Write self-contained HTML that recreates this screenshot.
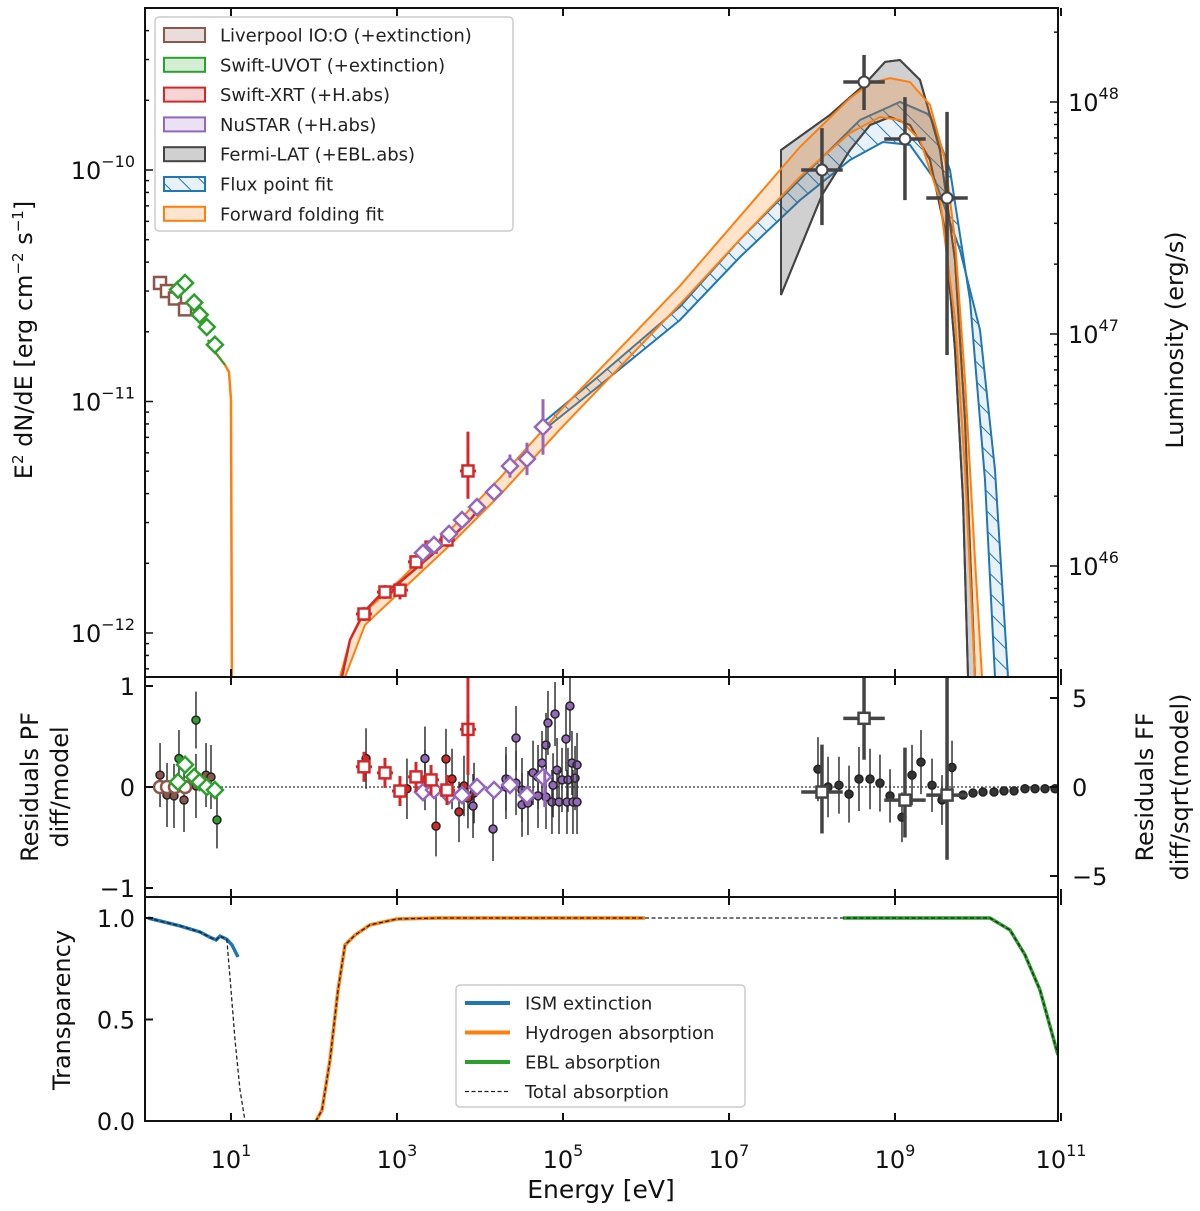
<!DOCTYPE html>
<html><head><meta charset="utf-8">
<style>
html,body{margin:0;padding:0;background:#fff;}
svg{display:block;font-family:"DejaVu Sans","Liberation Sans",sans-serif;}
</style></head>
<body>
<svg id="chart" width="1200" height="1211" viewBox="0 0 1200 1211" xmlns="http://www.w3.org/2000/svg">
<defs>
<clipPath id="cMain"><rect x="145" y="8" width="913" height="669"/></clipPath>
<clipPath id="cRes"><rect x="145" y="677" width="913" height="220"/></clipPath>
<clipPath id="cTr"><rect x="145" y="897" width="913" height="224"/></clipPath>
<pattern id="hatch" patternUnits="userSpaceOnUse" width="14" height="14" patternTransform="rotate(-45)">
<rect width="14" height="14" fill="rgba(31,119,180,0.1)"/>
<line x1="0" y1="0" x2="0" y2="14" stroke="#1f77b4" stroke-width="2"/>
</pattern>
</defs>
<g id="main"></g>
<g id="res"></g>
<g id="tr"></g>
<g id="axes"></g>
</svg>
<script>
// ---------------- data (log10 energy in eV, log10 flux in erg/cm2/s) ----------------
const lpLogE=[0.145,0.229,0.325,0.446];
const lpLogF=[-10.488,-10.523,-10.555,-10.602];
const uvLogE=[0.361,0.446,0.556,0.623,0.708,0.806];
const uvLogF=[-10.517,-10.488,-10.573,-10.625,-10.678,-10.755];
const xrtLogE=[2.602,2.855,3.036,3.229,3.410,3.602,3.855];
const xrtLogF=[-11.918,-11.823,-11.815,-11.693,-11.629,-11.598,-11.300];
const xrtErrLo=[0.03,0.03,0.04,0.03,0.03,0.03,0.12];
const xrtErrHi=[0.03,0.03,0.04,0.03,0.03,0.03,0.17];
const nuLogE=[3.313,3.446,3.627,3.783,3.964,4.169,4.361,4.566,4.759];
const nuLogF=[-11.654,-11.620,-11.572,-11.512,-11.456,-11.391,-11.279,-11.248,-11.110];
const nuErr=[0.02,0.02,0.02,0.02,0.03,0.03,0.05,0.07,0.12];
const fLogE=[8.120,8.627,9.120,9.627];
const fLogF=[-10.0,-9.620,-9.866,-10.121];
const fErrHi=[-9.819,-9.503,-9.685,-9.749];
const fErrLo=[-10.238,-9.741,-10.130,-10.799];
// model bands
const ffUpE=[2.313,2.434,2.614,3.036,3.639,4.241,4.964,5.687,6.410,7.133,7.855,8.458,8.699,8.940,9.181,9.422,9.602,9.723,9.843,9.964,10.048];
const ffUpF=[-12.19,-12.03,-11.909,-11.771,-11.555,-11.330,-11.040,-10.770,-10.500,-10.200,-9.900,-9.690,-9.625,-9.603,-9.620,-9.719,-9.957,-10.302,-10.907,-11.685,-12.19];
const ffLoE=[2.373,2.614,3.036,3.639,4.241,4.964,5.687,6.410,7.133,7.855,8.458,8.819,9.060,9.301,9.542,9.723,9.843,9.964];
const ffLoF=[-12.19,-11.965,-11.823,-11.620,-11.404,-11.120,-10.850,-10.580,-10.300,-10.030,-9.840,-9.771,-9.784,-9.870,-10.130,-10.648,-11.296,-12.19];
const fpUpE=[4.723,5.446,6.410,7.133,7.855,8.578,9.060,9.422,9.663,9.904,10.084,10.205];
const fpUpF=[-11.102,-10.886,-10.590,-10.300,-10.040,-9.784,-9.706,-9.762,-10.0,-10.562,-11.339,-12.19];
const fpLoE=[4.723,5.446,6.410,7.133,7.855,8.458,8.855,9.181,9.482,9.783,10.024,10.205,10.361];
const fpLoF=[-11.136,-10.929,-10.648,-10.376,-10.130,-9.957,-9.879,-9.892,-10.043,-10.346,-10.691,-11.296,-12.19];
const gUpE=[7.627,8.217,8.627,8.880,9.060,9.301,9.542,9.723,9.843,9.964];
const gUpF=[-9.914,-9.762,-9.633,-9.533,-9.525,-9.611,-9.914,-10.389,-11.080,-12.19];
const gLoE=[7.627,8.120,8.458,8.699,8.940,9.181,9.422,9.602,9.723,9.819,9.880];
const gLoF=[-10.540,-10.108,-9.914,-9.806,-9.771,-9.806,-9.957,-10.259,-10.778,-11.425,-12.19];
const optE=[0.723,0.807,0.928,0.976,1.0,1.012];
const optF=[-10.734,-10.786,-10.842,-10.873,-10.994,-12.3];
const xmE=[2.337,2.434,2.602,2.795,3.036,3.518,3.880,3.976];
const xmF=[-12.19,-12.03,-11.909,-11.836,-11.780,-11.633,-11.512,-11.469];
// residuals PF
const lpRes=[0,0,0,0];
const uvRes=[0.05,0.22,0.1,0.05,0.0,-0.03];
const xrtRes=[0.2,0.14,-0.04,0.1,0.07,-0.03,0.57];
const nuRes=[-0.05,-0.03,-0.08,-0.08,0.0,-0.03,0.02,-0.08,0.1];
const fRes=[-0.05,0.68,-0.13,-0.08];
const fResHi=[0.42,1.1,0.39,1.2];
const fResLo=[-0.46,0.27,-0.5,-0.72];
// residuals FF (dots)
const dLowE=[0.145,0.229,0.313,0.434,0.578,0.699,0.759];
const dLowV=[0.67,-0.45,-0.5,-0.73,0.06,0.67,0.56];
const dGrE=[0.373,0.578,0.831];
const dGrV=[1.6,3.76,-1.85];
const dRedE=[2.627,3.120,3.337,3.590,3.663,3.470,3.747,3.855,3.928,3.807];
const dRedV=[1.6,-0.1,0.4,1.57,0.45,-2.2,-1.4,-0.62,-0.34,0.06];
const dPuE=[3.337,3.916,4.157,4.313,4.313,4.434,4.434,4.506,4.506,4.578,4.639,4.699,4.747,4.795,4.819,4.904,4.928,4.867,4.952,5.036,5.084,5.108,5.169,4.988,5.060,5.145,5.048,5.120,5.169,4.880,4.795,4.699];
const dPuV=[1.6,-1.07,-2.36,0.45,0,2.75,0.22,-0.17,-1.0,-0.9,0.8,0.56,1.35,2.36,3.6,4.1,0.95,-0.84,-0.84,2.7,4.55,1.35,1.24,0.4,0.4,0.5,-0.84,-0.84,-0.84,0.1,-0.56,-0.5];
const dHiE=[8.072,8.193,8.325,8.446,8.566,8.699,8.819,8.940,9.084,9.205,9.313,9.446,9.566,9.687,9.819,9.940,10.060,10.193,10.313,10.434,10.566,10.687,10.807,10.928];
const dHiV=[1.0,0,0.1,-0.4,0.45,0.45,0.22,-0.5,-1.7,0.67,1.4,0.1,-0.73,1.1,-0.45,-0.34,-0.28,-0.28,-0.22,-0.22,-0.1,-0.1,-0.1,-0.1];
const dHiErr=[1.8,1.7,1.6,1.6,1.8,1.7,1.6,1.5,1.4,1.7,1.8,1.5,1.4,1.5,0.2,0.1,0.1,0.1,0.1,0.1,0.1,0.1,0.1,0.1];
// transparency
const ismE=[0.0,0.386,0.627,0.747,0.820,0.867,0.950,1.012,1.084];
const ismT=[1.0,0.961,0.931,0.905,0.892,0.911,0.895,0.867,0.808];
const totLowE=[0.0,0.386,0.627,0.747,0.820,0.867,0.950,0.990,1.048,1.108,1.169,2.024];
const totLowT=[1.0,0.961,0.931,0.905,0.892,0.911,0.895,0.695,0.40,0.153,0.0,0.0];
const hE=[2.024,2.096,2.193,2.289,2.373,2.494,2.675,3.0,3.5,5.988];
const hT=[0,0.054,0.30,0.645,0.867,0.916,0.966,0.995,1.0,1.0];
const eblE=[8.373,9.5,10.145,10.386,10.566,10.747,10.964];
const eblT=[1.0,1.0,1.0,0.941,0.818,0.645,0.325];
const xTickExp=[1,3,5,7,9,11];
const yTickExp=[-10,-11,-12];
const lumTickExp=[48,47,46];
const resTicks=[1,0,-1];
const ffTicks=[5,0,-5];
const trTicks=[1.0,0.5,0.0];

// ---------------- scales ----------------
const X=e=>148+83*e;
const Ym=f=>170-231.5*(f+10);
const Yr=v=>787-101*v;
const Yf=v=>787-17.8*v;
const Yt=t=>1121-203*t;
const Yl=l=>102+232*(48-l);
const NS='http://www.w3.org/2000/svg';
function mk(parent,tag,attrs,name,inter){const el=document.createElementNS(NS,tag);for(const k in attrs)el.setAttribute(k,attrs[k]);


parent.appendChild(el);return el;}
function pts(es,vs,fy){return es.map((e,i)=>X(e).toFixed(1)+','+fy(vs[i]).toFixed(1)).join(' ');}
const main=document.getElementById('main'),res=document.getElementById('res'),tr=document.getElementById('tr'),ax=document.getElementById('axes');
const gM=mk(main,'g',{'clip-path':'url(#cMain)'},'sed-plot-area',false);
function band(g,ue,uf,le,lf,fill,stroke,name){
  const p=pts(ue,uf,Ym)+' '+pts(le.slice().reverse(),lf.slice().reverse(),Ym);
  mk(g,'polygon',{points:p,fill:fill,stroke:'none'},name+'-fill',false);
  mk(g,'polyline',{points:pts(ue,uf,Ym),fill:'none',stroke:stroke,'stroke-width':2},name+'-upper',false);
  mk(g,'polyline',{points:pts(le,lf,Ym),fill:'none',stroke:stroke,'stroke-width':2},name+'-lower',false);
}
function ln(g,x1,y1,x2,y2,c,w,name){return mk(g,'line',{x1:x1,y1:y1,x2:x2,y2:y2,stroke:c,'stroke-width':w},name,false);}
band(gM,fpUpE,fpUpF,fpLoE,fpLoF,'url(#hatch)','#1f77b4','flux-point-fit-band');
band(gM,gUpE,gUpF,gLoE,gLoF,'rgba(100,100,100,0.3)','#444','fermi-band');
{const p=pts(gUpE,gUpF,Ym)+' '+pts(gLoE.slice().reverse(),gLoF.slice().reverse(),Ym);mk(gM,'polygon',{points:p,fill:'none',stroke:'#444','stroke-width':2},'fermi-band-edge',false);}
band(gM,ffUpE,ffUpF,ffLoE,ffLoF,'rgba(255,127,14,0.22)','#ff7f0e','forward-folding-band');
mk(gM,'polyline',{points:pts(optE,optF,Ym),fill:'none',stroke:'#ff7f0e','stroke-width':2.5},'optical-model-line',false);
mk(gM,'polyline',{points:pts(optE.slice(0,3),optF.slice(0,3),Ym),fill:'none',stroke:'#2ca02c','stroke-width':2},'uvot-model-line',false);
mk(gM,'polyline',{points:pts(xmE,xmF,Ym),fill:'none',stroke:'#d62728','stroke-width':2.5},'xrt-model-line',false);
function sq(g,x,y,s,c,name){mk(g,'rect',{x:x-s/2,y:y-s/2,width:s,height:s,fill:'#fff',stroke:c,'stroke-width':2.5},name,false);}
function dia(g,x,y,s,c,name){mk(g,'polygon',{points:`${x},${y-s} ${x+s},${y} ${x},${y+s} ${x-s},${y}`,fill:'#fff',stroke:c,'stroke-width':2.5},name,false);}
lpLogE.forEach((e,i)=>sq(gM,X(e),Ym(lpLogF[i]),12,'#8c564b','liverpool-point'));
uvLogE.forEach((e,i)=>dia(gM,X(e),Ym(uvLogF[i]),8,'#2ca02c','uvot-point'));
xrtLogE.forEach((e,i)=>{const x=X(e),y=Ym(xrtLogF[i]);
 ln(gM,x,Ym(xrtLogF[i]+xrtErrHi[i]),x,Ym(xrtLogF[i]-xrtErrLo[i]),'#d62728',3,'xrt-yerr');
 ln(gM,x-8,y,x+8,y,'#d62728',3,'xrt-xerr');sq(gM,x,y,11,'#d62728','xrt-point');});
nuLogE.forEach((e,i)=>{const x=X(e),y=Ym(nuLogF[i]);
 ln(gM,x,Ym(nuLogF[i]+nuErr[i]),x,Ym(nuLogF[i]-nuErr[i]),'#9467bd',3,'nustar-yerr');
 dia(gM,x,y,8,'#9467bd','nustar-point');});
fLogE.forEach((e,i)=>{const x=X(e),y=Ym(fLogF[i]);
 ln(gM,x,Ym(fErrHi[i]),x,Ym(fErrLo[i]),'#444',3.5,'fermi-yerr');
 ln(gM,X(e-0.25),y,X(e+0.25),y,'#444',3.5,'fermi-xerr');
 mk(gM,'circle',{cx:x,cy:y,r:5.5,fill:'#fff',stroke:'#444','stroke-width':2},'fermi-point',false);});

// legend main
const lg=mk(main,'g',{},'legend',false);
mk(lg,'rect',{x:155,y:17,width:358,height:214,rx:4,fill:'rgba(255,255,255,0.85)',stroke:'#ccc','stroke-width':1.5},'legend-box',false);
const legNames=['Liverpool IO:O (+extinction)','Swift-UVOT (+extinction)','Swift-XRT (+H.abs)','NuSTAR (+H.abs)','Fermi-LAT (+EBL.abs)','Flux point fit','Forward folding fit'];
const legStroke=['#8c564b','#2ca02c','#d62728','#9467bd','#444','#1f77b4','#ff7f0e'];
const legFill=['rgba(140,86,75,0.2)','rgba(44,160,44,0.2)','rgba(214,39,40,0.2)','rgba(148,103,189,0.2)','rgba(100,100,100,0.3)','url(#hatch)','rgba(255,127,14,0.2)'];
legNames.forEach((n,i)=>{const y=35+i*29.8;
 mk(lg,'rect',{x:164,y:y-7,width:41,height:14,fill:legFill[i],stroke:legStroke[i],'stroke-width':2},'legend-patch',false);
 const t=mk(lg,'text',{x:220,y:y+6.5,'font-size':18,fill:'#222'},'legend-entry',false);t.textContent=n;});

// residuals
const gR=mk(res,'g',{'clip-path':'url(#cRes)'},'residual-plot-area',false);
ln(gR,145,787,1058,787,'#333',1.2,'zero-line').setAttribute('stroke-dasharray','2,2');
function dot(e,v,err,fill,name){const x=X(e);ln(gR,x,Yf(v+err),x,Yf(v-err),'#333',1.5,name+'-err');
 mk(gR,'circle',{cx:x,cy:Yf(v),r:4,fill:fill,stroke:'#222','stroke-width':1.5},name,false);}
dLowE.forEach((e,i)=>dot(e,dLowV[i],1.8,'#8c564b','ff-res-optical-dot'));
dGrE.forEach((e,i)=>dot(e,dGrV[i],1.6,'#2ca02c','ff-res-uvot-dot'));
dRedE.forEach((e,i)=>dot(e,dRedV[i],1.7,'#d62728','ff-res-xrt-dot'));
dPuE.forEach((e,i)=>dot(e,dPuV[i],1.8,'#9467bd','ff-res-nustar-dot'));
dHiE.forEach((e,i)=>dot(e,dHiV[i],dHiErr[i],'#333','ff-res-fermi-dot'));
lpLogE.forEach((e,i)=>mk(gR,'circle',{cx:X(e),cy:Yr(lpRes[i]),r:6,fill:'#fff',stroke:'#8c564b','stroke-width':2.5},'pf-res-liverpool',false));
uvLogE.forEach((e,i)=>dia(gR,X(e),Yr(uvRes[i]),8,'#2ca02c','pf-res-uvot'));
nuLogE.forEach((e,i)=>dia(gR,X(e),Yr(nuRes[i]),8,'#9467bd','pf-res-nustar'));
ln(gR,X(4.78),Yr(0.18),X(4.78),Yr(-0.2),'#9467bd',3,'pf-res-nustar-err');
xrtLogE.forEach((e,i)=>{const x=X(e),y=Yr(xrtRes[i]);ln(gR,x,y-15,x,y+15,'#d62728',3,'pf-res-xrt-err');ln(gR,x-8,y,x+8,y,'#d62728',3,'pf-res-xrt-xerr');sq(gR,x,y,11,'#d62728','pf-res-xrt');});
ln(gR,X(3.855),Yr(2),X(3.855),Yr(0.12),'#d62728',3,'pf-res-xrt-bigerr');
fLogE.forEach((e,i)=>{const x=X(e),y=Yr(fRes[i]);ln(gR,x,Yr(fResHi[i]),x,Yr(fResLo[i]),'#444',3.5,'pf-res-fermi-err');ln(gR,X(e-0.25),y,X(e+0.25),y,'#444',3.5,'pf-res-fermi-xerr');sq(gR,x,y,11,'#444','pf-res-fermi');});

// transparency
const gT=mk(tr,'g',{'clip-path':'url(#cTr)'},'transparency-plot-area',false);
mk(gT,'polyline',{points:pts(ismE,ismT,Yt),fill:'none',stroke:'#1f77b4','stroke-width':3.5},'ism-extinction-line',false);
mk(gT,'polyline',{points:pts(hE,hT,Yt),fill:'none',stroke:'#ff7f0e','stroke-width':3.5},'hydrogen-absorption-line',false);
mk(gT,'polyline',{points:pts(eblE,eblT,Yt),fill:'none',stroke:'#2ca02c','stroke-width':3.5},'ebl-absorption-line',false);
const totE=totLowE.concat(hE.slice(1),eblE), totT=totLowT.concat(hT.slice(1),eblT);
mk(gT,'polyline',{points:pts(totE,totT,Yt),fill:'none',stroke:'#222','stroke-width':1.3,'stroke-dasharray':'4,2.5'},'total-absorption-line',false);
const lg2=mk(tr,'g',{},'transparency-legend',false);
mk(lg2,'rect',{x:456,y:985,width:289,height:122,rx:4,fill:'rgba(255,255,255,0.85)',stroke:'#ccc','stroke-width':1.5},'transparency-legend-box',false);
const l2n=['ISM extinction','Hydrogen absorption','EBL absorption','Total absorption'];
const l2c=['#1f77b4','#ff7f0e','#2ca02c','#222'];
l2n.forEach((n,i)=>{const y=1003+i*29.5;const l=ln(lg2,465,y,510,y,l2c[i],i<3?4:1.3,'transparency-legend-line');if(i==3)l.setAttribute('stroke-dasharray','4,2.5');
 const t=mk(lg2,'text',{x:525,y:y+6.5,'font-size':18,fill:'#222'},'transparency-legend-entry',false);t.textContent=n;});

// axes frames & ticks
[[8,677],[677,897],[897,1121]].forEach(([t,b])=>mk(ax,'rect',{x:145,y:t,width:913,height:b-t,fill:'none',stroke:'#111','stroke-width':2},'panel-frame',false));
function txt(x,y,s,size,anchor,name,extra){const t=mk(ax,'text',Object.assign({x:x,y:y,'font-size':size,'text-anchor':anchor,fill:'#111'},extra||{}),name,false);t.innerHTML=s;return t;}
[[8,677],[677,897],[897,1121]].forEach(([t,b])=>{xTickExp.forEach(p=>{const x=X(p);ln(ax,x,t,x,t+8,'#111',2,'x-tick');ln(ax,x,b,x,b-8,'#111',2,'x-tick');});});
xTickExp.forEach(p=>txt(X(p),1168,'10<tspan dy="-12" font-size="16">'+p+'</tspan>',24,'middle','x-tick-label'));
for(let d=-13;d<=-9;d++){for(let m=1;m<10;m++){const f=d+Math.log10(m);const y=Ym(f);if(y<8||y>677)continue;const L=m==1?8:4;ln(ax,145,y,145+L,y,'#111',1.5,'y-tick');}}
yTickExp.forEach(p=>txt(135,Ym(p)+9,'10<tspan dy="-12" font-size="16">\u2212'+(-p)+'</tspan>',24,'end','y-tick-label'));
for(let d=45;d<=49;d++){for(let m=1;m<10;m++){const y=Yl(d+Math.log10(m));if(y<8||y>677)continue;const L=m==1?8:4;ln(ax,1058,y,1058-L,y,'#111',1.5,'lum-tick');}}
lumTickExp.forEach(p=>txt(1068,Yl(p)+9,'10<tspan dy="-12" font-size="16">'+p+'</tspan>',24,'start','lum-tick-label'));
resTicks.forEach(v=>{ln(ax,145,Yr(v),153,Yr(v),'#111',2,'res-tick');txt(135,Yr(v)+9,v<0?'\u2212'+(-v):''+v,24,'end','res-tick-label');});
ffTicks.forEach(v=>{ln(ax,1058,Yf(v),1050,Yf(v),'#111',2,'ff-tick');txt(1072,Yf(v)+9,v<0?'\u2212'+(-v):''+v,24,'start','ff-tick-label');});
trTicks.forEach(v=>{ln(ax,145,Yt(v),153,Yt(v),'#111',2,'tr-tick');txt(135,Yt(v)+9,v.toFixed(1),24,'end','tr-tick-label');});
txt(0,0,'E<tspan dy="-9" font-size="15">2</tspan><tspan dy="9"> dN/dE [erg cm</tspan><tspan dy="-9" font-size="15">\u22122</tspan><tspan dy="9"> s</tspan><tspan dy="-9" font-size="15">\u22121</tspan><tspan dy="9">]</tspan>',24,'middle','y-axis-title',{transform:'translate(32,340) rotate(-90)'});
txt(0,0,'Luminosity (erg/s)',24,'middle','lum-axis-title',{transform:'translate(1183,340) rotate(-90)'});
txt(0,0,'Residuals PF',24,'middle','res-axis-title',{transform:'translate(38,787) rotate(-90)'});
txt(0,0,'diff/model',24,'middle','res-axis-subtitle',{transform:'translate(68,787) rotate(-90)'});
txt(0,0,'Residuals FF',24,'middle','ff-axis-title',{transform:'translate(1153,787) rotate(-90)'});
txt(0,0,'diff/sqrt(model)',24,'middle','ff-axis-subtitle',{transform:'translate(1188,787) rotate(-90)'});
txt(0,0,'Transparency',24,'middle','transparency-axis-title',{transform:'translate(70,1010) rotate(-90)'});
txt(601,1198,'Energy [eV]',25,'middle','x-axis-title');
</script>
</body></html>
